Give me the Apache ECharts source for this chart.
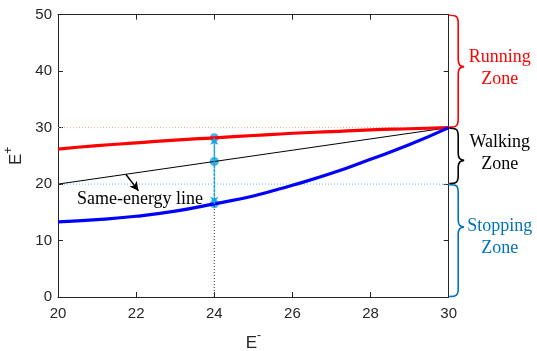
<!DOCTYPE html>
<html><head><meta charset="utf-8">
<script src="https://cdn.jsdelivr.net/npm/echarts@6/dist/echarts.min.js"></script>
<style>html,body{margin:0;padding:0;background:#fff}#c{width:537px;height:351px}</style>
</head><body><div id="c"></div>
<script>
// ---- data ----
const xValues = [20, 21, 22, 23, 24, 25, 26, 27, 28, 29, 30];
const runningValues = [26.2, 26.8, 27.3, 27.8, 28.2, 28.6, 29.0, 29.3, 29.6, 29.8, 30];
const stoppingValues = [13.3, 13.7, 14.3, 15.2, 16.5, 17.9, 19.8, 21.9, 24.4, 27.0, 30];
const sameEnergyX = [20, 30];
const sameEnergyY = [20, 30];
const probeX = 24;
const probeY = [28.2, 24, 16.5];
const runThreshold = 30;
const stopThreshold = 20;
const zoneNames = ['Running\nZone', 'Walking\nZone', 'Stopping\nZone'];
const zoneLow = [30, 20, 0];
const zoneHigh = [50, 30, 20];
const zoneTip = [40.8, 24.2, 12.4];
const noteText = 'Same-energy line';
const notePos = [22.1, 17.35];
const noteArrowFrom = [21.74, 21.7];
const noteArrowTo = [22.06, 18.8];

const zoneColors = ['#ff0000', '#000000', '#0072BD'];
const axisColor = '#262626';
const serif = '"Liberation Serif", "Times New Roman", serif';
const sans = '"Liberation Sans", Arial, sans-serif';

const chart = echarts.init(document.getElementById('c'));

const baseAxis = {
  type: 'value',
  axisLine: { show: true, onZero: false, lineStyle: { color: axisColor, width: 1 } },
  axisTick: { show: true, inside: true, length: 5, lineStyle: { color: axisColor } },
  splitLine: { show: false }
};

const nameRich = {
  e: { fontSize: 17, fontFamily: sans, color: axisColor, lineHeight: 22, verticalAlign: 'bottom' },
  s: { fontSize: 12, fontFamily: sans, color: axisColor, lineHeight: 22, verticalAlign: 'top' }
};

const option = {
  animation: false,
  backgroundColor: '#fff',
  grid: { left: 58, right: 88.3, top: 14.7, bottom: 54, containLabel: false, outerBoundsMode: 'none' },
  xAxis: [
    Object.assign({}, baseAxis, {
      min: 20, max: 30, interval: 2, position: 'bottom',
      axisLabel: { fontSize: 15, color: axisColor, fontFamily: sans, margin: 9 },
      name: '{e|E}{s|-}', nameLocation: 'middle', nameGap: 33,
      nameTextStyle: { rich: nameRich }
    }),
    Object.assign({}, baseAxis, {
      min: 20, max: 30, interval: 2, position: 'top', axisLabel: { show: false }
    })
  ],
  yAxis: [
    Object.assign({}, baseAxis, {
      min: 0, max: 50, interval: 10, position: 'left',
      axisLabel: { fontSize: 15, color: axisColor, fontFamily: sans, margin: 6 },
      name: '{e|E}{s|+}', nameLocation: 'middle', nameGap: 27, nameRotate: 90,
      nameTextStyle: { rich: nameRich }
    }),
    Object.assign({}, baseAxis, {
      min: 0, max: 50, interval: 10, position: 'right', axisLabel: { show: false }
    })
  ],
  series: [
    {
      type: 'line', symbol: 'none', silent: true,
      data: [[20, runThreshold], [30, runThreshold]],
      lineStyle: { color: '#f4a89c', width: 1, type: [1, 2] }
    },
    {
      type: 'line', symbol: 'none', silent: true,
      data: [[20, stopThreshold], [30, stopThreshold]],
      lineStyle: { color: '#6fb6ea', width: 1, type: [1, 2] }
    },
    {
      type: 'line', symbol: 'none', silent: true,
      data: [[probeX, 0], [probeX, probeY[2]]],
      lineStyle: { color: '#333', width: 1, type: [1, 2] }
    },
    {
      type: 'line', symbol: 'none',
      data: sameEnergyX.map((x, i) => [x, sameEnergyY[i]]),
      lineStyle: { color: '#000', width: 1 }
    },
    {
      type: 'line', symbol: 'none', smooth: true,
      data: xValues.map((x, i) => [x, runningValues[i]]),
      lineStyle: { color: '#ff0000', width: 3.2 }
    },
    {
      type: 'line', symbol: 'none', smooth: true,
      data: xValues.map((x, i) => [x, stoppingValues[i]]),
      lineStyle: { color: '#0000ff', width: 3.2 }
    },
    {
      type: 'line', symbol: 'none',
      data: [[probeX, probeY[2]], [probeX, probeY[0]]],
      lineStyle: { color: '#16a4e6', width: 1.3, type: [3, 1] },
      markLine: {
        silent: true, animation: false,
        symbol: ['none', 'arrow'], symbolSize: [6, 7],
        label: { show: false },
        lineStyle: { color: '#16a4e6', width: 1.3, type: [3, 1] },
        data: [
          [{ coord: [probeX, probeY[1]] }, { coord: [probeX, probeY[0]] }],
          [{ coord: [probeX, probeY[1]] }, { coord: [probeX, probeY[2]] }]
        ]
      }
    },
    {
      type: 'scatter', symbol: 'circle', symbolSize: 9,
      data: probeY.map(y => [probeX, y]),
      itemStyle: { color: '#16a4e6' }
    },
    {
      type: 'line', symbol: 'none', data: [],
      markLine: {
        silent: true, animation: false,
        symbol: ['none', 'arrow'], symbolSize: [7, 9],
        label: { show: false },
        lineStyle: { color: '#000', width: 1.5, type: 'solid' },
        data: [[{ coord: noteArrowFrom }, { coord: noteArrowTo }]]
      }
    },
    {
      type: 'custom', silent: true,
      data: [notePos],
      renderItem: function (params, api) {
        const p = api.coord([api.value(0), api.value(1)]);
        return {
          type: 'text', x: p[0], y: p[1],
          style: { text: noteText, fill: '#000', font: '18px ' + serif, align: 'center', verticalAlign: 'middle' }
        };
      }
    },
    {
      type: 'custom', silent: true, clip: false,
      data: zoneNames.map((n, i) => [30, zoneLow[i], zoneHigh[i], zoneTip[i]]),
      renderItem: function (params, api) {
        const i = params.dataIndex;
        const top = api.coord([api.value(0), api.value(2)]);
        const bot = api.coord([api.value(0), api.value(1)]);
        const tip = api.coord([api.value(0), api.value(3)]);
        const x0 = top[0] + 0.5, yt = top[1] + 0.5, yb = bot[1] - 0.5, ym = tip[1];
        const xv = x0 + 9, xt = x0 + 15;
        const d = 'M' + x0 + ' ' + yt +
          ' C' + (x0 + 7) + ' ' + yt + ' ' + xv + ' ' + (yt + 1) + ' ' + xv + ' ' + (yt + 8) +
          ' L' + xv + ' ' + (ym - 7) +
          ' C' + xv + ' ' + (ym - 2) + ' ' + (xv + 2) + ' ' + ym + ' ' + xt + ' ' + ym +
          ' C' + (xv + 2) + ' ' + ym + ' ' + xv + ' ' + (ym + 2) + ' ' + xv + ' ' + (ym + 7) +
          ' L' + xv + ' ' + (yb - 8) +
          ' C' + xv + ' ' + (yb - 1) + ' ' + (x0 + 7) + ' ' + yb + ' ' + x0 + ' ' + yb;
        const mid = (top[1] + bot[1]) / 2 - 3;
        return {
          type: 'group',
          children: [
            { type: 'path', shape: { pathData: d }, style: { stroke: zoneColors[i], fill: null, lineWidth: 1.6 } },
            {
              type: 'text', x: top[0] + 51, y: mid,
              style: {
                text: zoneNames[i], fill: zoneColors[i], font: '18px ' + serif,
                align: 'center', verticalAlign: 'middle', lineHeight: 22
              }
            }
          ]
        };
      }
    }
  ]
};
chart.setOption(option);
</script>
</body></html>
